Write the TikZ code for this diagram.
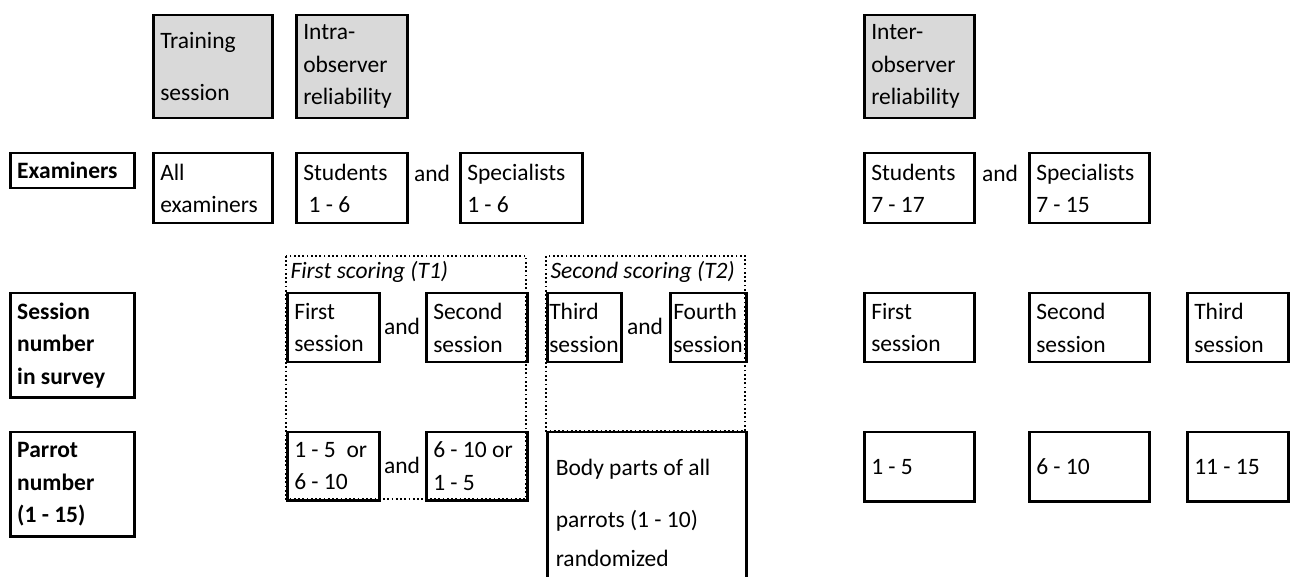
\documentclass[tikz,border=0pt]{standalone}
\usepackage{fontspec}
\setmainfont{Carlito}
\tikzset{
  cell/.style 2 args={draw, line width=1pt, anchor=north west, inner xsep=2.8pt, inner ysep=0pt, align=flush left, text width=#1, minimum height=#2},
  grey/.style={fill=black!15},
  lab/.style={font=\fontsize{9.4pt}{13pt}\selectfont\bfseries},
  word/.style={inner sep=0pt},
  frame/.style={densely dotted, line width=0.7pt},
}
\begin{document}
\begin{tikzpicture}[x=0.4pt, y=-0.4pt, font=\fontsize{9.4pt}{13pt}\selectfont]
\useasboundingbox (0,0) rectangle (1290,577);
\clip (0,0) rectangle (1290,577);
% headings
\node[cell={42pt}{41.2pt}, grey] (train) at (152,14) {Training\\[7.8pt]session};
\node[cell={38.8pt}{41.2pt}, grey] (intra) at (295,14) {Intra-\\observer\\reliability};
\node[cell={38.4pt}{41.2pt}, grey] (inter) at (863,14) {Inter-\\observer\\reliability};
% examiners
\node[cell={44pt}{14pt}, lab] (exam) at (9,152) {Examiners};
\node[cell={42pt}{28pt}] (allex) at (152,152) {All\\examiners};
\node[cell={38.8pt}{28pt}] (stu1) at (295,152) {Students\\~1 - 6};
\node[word] (and1) at (432,173) {and};
\node[cell={43.2pt}{28pt}] (spe1) at (459,152) {Specialists\\1 - 6};
\node[cell={38.4pt}{28pt}] (stu2) at (863,152) {Students\\7 - 17};
\node[word] (and2) at (1000,173) {and};
\node[cell={42.4pt}{28pt}] (spe2) at (1028,152) {Specialists\\7 - 15};
% scoring frames
\draw[frame] (286,256) rectangle (526,499);
\draw[frame] (546,256) rectangle (745,431);
\node[word, anchor=west] (t1) at (290,272) {\textit{First scoring (T1)}};
\node[word, anchor=west] (t2) at (550,272) {\textit{Second scoring (T2)}};
% sessions
\node[cell={44pt}{41.6pt}, lab] (sess) at (9,292) {Session\\number\\in survey};
\node[cell={31.2pt}{27.6pt}] (s1) at (286,292) {First\\session};
\node[word] (and3) at (402,326) {and};
\node[cell={34.8pt}{27.6pt}] (s2) at (425,292) {Second\\session};
\node[cell={28pt}{27.6pt}, inner xsep=0.8pt] (s3) at (546,292) {Third\\session};
\node[word] (and4) at (645,326) {and};
\node[cell={28pt}{27.6pt}, inner xsep=1.2pt] (s4) at (669,292) {Fourth\\session};
\node[cell={38.4pt}{27.6pt}] (r1) at (863,292) {First\\session};
\node[cell={42.4pt}{27.6pt}] (r2) at (1028,292) {Second\\session};
\node[cell={34.8pt}{27.6pt}] (r3) at (1186,292) {Third\\session};
% parrots
\node[cell={44pt}{41.6pt}, lab] (parr) at (9,431) {Parrot\\number\\(1 - 15)};
\node[cell={31.2pt}{27.2pt}] (p1) at (286,431) {1 - 5~ or\\6 - 10};
\node[word] (and5) at (402,465) {and};
\node[cell={34.8pt}{27.2pt}] (p2) at (425,431) {6 - 10 or\\1 - 5};
\node[cell={72.8pt}{64.4pt}, inner xsep=3.4pt] (body) at (546,431) {Body parts of all\\[8pt]parrots (1 - 10)\\[2.4pt]randomized};
\node[cell={38.4pt}{27.6pt}] (q1) at (863,431) {1 - 5};
\node[cell={42.4pt}{27.6pt}] (q2) at (1028,431) {6 - 10};
\node[cell={34.8pt}{27.6pt}] (q3) at (1186,431) {11 - 15};
\end{tikzpicture}
\end{document}
